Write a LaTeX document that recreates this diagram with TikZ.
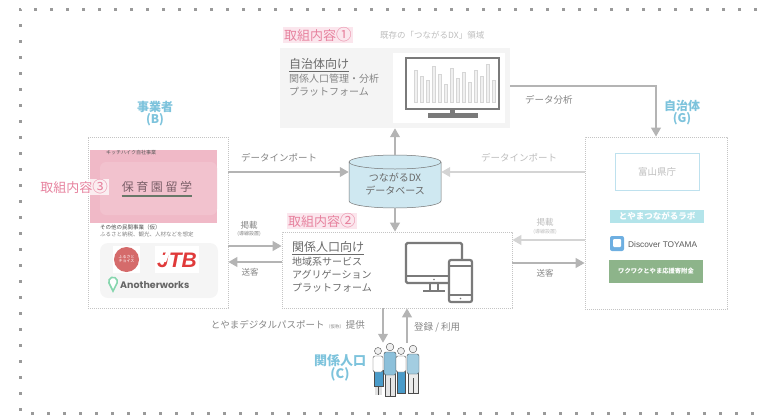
\documentclass[tikz,border=0pt]{standalone}
\usepackage{fontspec}
\setmainfont{Noto Sans CJK JP}
\newfontfamily\latinsans{Liberation Sans}
\newfontfamily\popfont{Poppins}
\usetikzlibrary{arrows.meta,calc}
\newcommand\fsz[1]{\fontsize{#1}{#1}\selectfont}
\newcommand\bignum[1]{{\fsz{15.5}#1}}

\definecolor{pinkt}{HTML}{E7839F}
\definecolor{pinkbg}{HTML}{FBE6ED}
\definecolor{pinkbox}{HTML}{F0B9C7}
\definecolor{pinkin}{HTML}{F2C2CE}
\definecolor{hoikut}{HTML}{7A5F68}
\definecolor{hoikul}{HTML}{697869}
\definecolor{bluet}{HTML}{7DC3DC}
\definecolor{txt}{HTML}{858585}
\definecolor{txtd}{HTML}{6A6A6A}
\definecolor{txtl}{HTML}{BDBDBD}
\definecolor{arrc}{HTML}{B4B4B4}
\definecolor{arrl}{HTML}{D4D4D4}
\definecolor{boxgray}{HTML}{F4F4F4}
\definecolor{dotc}{HTML}{C4C4C4}
\definecolor{framec}{HTML}{9A9A9A}
\definecolor{dbfill}{HTML}{CFE8F1}
\definecolor{icon}{HTML}{7A7A7A}
\definecolor{labcyan}{HTML}{B3E4EA}
\definecolor{prefbox}{HTML}{BEE1EE}
\definecolor{appblue}{HTML}{6EAFE1}
\definecolor{furugreen}{HTML}{8DB48A}
\definecolor{jtbred}{HTML}{E03A3A}
\definecolor{choice}{HTML}{D56B6B}
\definecolor{pingreen}{HTML}{86D6AE}
\definecolor{shirt}{HTML}{8CC0DA}
\definecolor{pants}{HTML}{4A9BC9}

\tikzset{
  lbl/.style={inner sep=0pt, text=txt},
  arrow base/.style={line width=2.2pt, -{Triangle[length=9pt,width=9.5pt]}},
  arr/.style={arrow base, draw=arrc},
  arrlight/.style={arrow base, draw=arrl},
  dotbox/.style={draw=dotc, line width=0.6pt, dash pattern=on 0.8pt off 1.2pt, inner sep=0pt},
  frame/.style={line width=3pt, dash pattern=on 3pt off 13pt, draw=framec},
  titlepink/.style={fill=pinkbg, text=pinkt, inner sep=1pt, font=\fsz{13}},
  who/.style={inner sep=0pt, text=bluet, font=\fsz{12}\bfseries, align=center},
  person/.style={draw=black!70, line width=0.4pt}
}

\begin{document}
\begin{tikzpicture}[x=1pt,y=-1pt]
\useasboundingbox (0,0) rectangle (760,418);

% outer dotted frame
\draw[frame] (757,9) -- (20,9) -- (20,413) -- (757,413);

% ---------- existing area: municipal platform ----------
\node[fill=boxgray, inner sep=0pt, minimum width=230pt, minimum height=80pt] (dxbox) at (395,88) {};
\node[titlepink, anchor=west] (t1) at (283,35) {取組内容\bignum{①}};
\node[lbl, anchor=west, text=txtl, font=\fsz{8.5}] at (380,35) {既存の「つながるDX」領域};
\node[lbl, anchor=west, text=txtd, font=\fsz{12}] (g1) at (289,64) {自治体向け};
\draw[txtd, line width=0.8pt] ([yshift=-1.5pt]g1.south west) -- ([yshift=-1.5pt]g1.south east);
\node[lbl, anchor=west, font=\fsz{10}] at (289,79) {関係人口管理・分析};
\node[lbl, anchor=west, font=\fsz{10}] at (289,92) {プラットフォーム};
% analytics monitor
\fill[white] (393,53) rectangle (505,123);
\draw[icon, line width=2.5pt, fill=white] (406,58) rectangle (499,109);
\foreach \bx/\bt in {414/70,420/76,426/80,432/66,438/74,444/84,450/68,456/78,462/72,468/82,474/70,480/76,486/64,492/80}
  \draw[draw=black!16, fill=black!6, line width=0.3pt] (\bx,102) rectangle ++(3.2,\bt-102);
\fill[icon] (450,109) rectangle (455,114);
\fill[icon] (428,113) rectangle (478,117.5);

% ---------- database ----------
\node[inner sep=0pt, minimum width=92pt, minimum height=53pt] (db) at (395,181.5) {};
\fill[dbfill] (349,162) -- (349,201) arc[start angle=180, end angle=360, x radius=46pt, y radius=7pt]
  -- (441,162) arc[start angle=0, end angle=180, x radius=46pt, y radius=7pt] -- cycle;
\draw[black!55, line width=0.5pt] (349,162) -- (349,201) arc[start angle=180, end angle=360, x radius=46pt, y radius=7pt] -- (441,162);
\draw[black!55, line width=0.5pt] (395,162) ellipse[x radius=46pt, y radius=7pt];
\node[lbl, text=txtd, font=\fsz{10}, align=center] at (395,184) {つながるDX\\[3pt]データベース};

% ---------- business operators (B) ----------
\node[dotbox, minimum width=140pt, minimum height=171pt] (bbox) at (158,222.5) {};
\node[who] at (155,114) {事業者\\(B)};
\fill[pinkbox] (90,150) rectangle (217,223);
\fill[pinkin, rounded corners=6pt] (100,162) rectangle (217,215);
\node[lbl, anchor=west, text=black!65, font=\fsz{5}] at (106,153) {キッチハイク自社事業};
\node[lbl, text=hoikut, font=\fsz{12}] (hoiku) at (157,187)
  {保\hspace{2.6pt}育\hspace{2.6pt}園\hspace{2.6pt}留\hspace{2.6pt}学};
\draw[hoikul, line width=1.6pt] ([yshift=-3pt]hoiku.south west) -- ([yshift=-3pt]hoiku.south east);
\node[fill=white, fill opacity=0.75, text opacity=1, text=pinkt, inner sep=1pt, font=\fsz{13}] at (74,187) {取組内容\bignum{③}};
\node[lbl, anchor=west, text=black!70, font=\fsz{5.5}] at (100,227) {その他の民間事業（仮）};
\node[lbl, anchor=west, text=black!50, font=\fsz{5.5}] at (100,234.5) {ふるさと納税、観光、人材などを想定};
\fill[black!4, rounded corners=8pt] (100,243) rectangle (218,298);
% partner logos
\fill[white] (113,246) rectangle (140,273);
\fill[choice] (126.5,259.5) circle[radius=12.5pt];
\node[lbl, text=white, font=\fsz{4}, align=center] at (126.5,259.5) {ふるさと\\チョイス};
\fill[white] (155,246) rectangle (199,273);
\node[lbl, text=jtbred, font=\latinsans\fsz{21}\bfseries\itshape] at (177,260) {JTB};
\fill[white] (168,247) -- (172,247) -- (166,262) -- (162,262) -- cycle;
\draw[pingreen, line width=1.6pt, fill=white] (113,291) -- (109,283) arc[start angle=200, end angle=-20, radius=4.3pt] -- cycle;
\node[lbl, anchor=west, text=black!60, font=\popfont\fsz{9.5}\bfseries] at (120,285.5) {Anotherworks};

% ---------- municipality (G) ----------
\node[dotbox, minimum width=142pt, minimum height=172pt] (gbox) at (656,223) {};
\node[who] at (682,113) {自治体\\(G)};
\node[draw=prefbox, line width=0.8pt, minimum width=84pt, minimum height=37pt, text=txtl, font=\fsz{9.5}] at (657,171.5) {富山県庁};
\node[fill=labcyan, minimum width=94pt, minimum height=13pt, inner sep=0pt, text=white, font=\fsz{8.5}\bfseries] at (657,216.5) {とやまつながるラボ};
\fill[appblue, rounded corners=2pt] (610,236) rectangle (624,251);
\fill[white, rounded corners=1pt] (613,239) rectangle (621,247);
\node[lbl, anchor=west, text=black!65, font=\latinsans\fsz{8.3}] at (628,245) {Discover TOYAMA};
\node[fill=furugreen, minimum width=94pt, minimum height=23pt, inner sep=0pt, text=white, font=\fsz{6.3}\bfseries] at (656,271.5) {ワクワクとやま応援寄附金};

% ---------- population-facing platform ----------
\node[dotbox, fill=white, minimum width=230pt, minimum height=76pt] (p2box) at (397,270) {};
\node[titlepink, anchor=west] at (287,221) {取組内容\bignum{②}};
\node[lbl, anchor=west, text=txtd, font=\fsz{12}] (k1) at (292,247) {関係人口向け};
\draw[txtd, line width=0.8pt] ([yshift=-1.5pt]k1.south west) -- ([yshift=-1.5pt]k1.south east);
\node[lbl, anchor=west, text=txtd, font=\fsz{10}] at (292,262) {地域系サービス};
\node[lbl, anchor=west, text=txtd, font=\fsz{10}] at (292,275) {アグリゲーション};
\node[lbl, anchor=west, text=txtd, font=\fsz{10}] at (292,288) {プラットフォーム};
% monitor and phone icon
\draw[icon, line width=2.2pt, rounded corners=1.5pt] (406,243) rectangle (462,283);
\draw[icon, line width=1.6pt] (406,276) -- (462,276);
\fill[icon] (434,279.5) circle[radius=0.9pt];
\draw[icon, line width=2pt] (430,283) -- (430,290) (438,283) -- (438,290);
\draw[icon, line width=2pt] (423,291) -- (445,291);
\draw[icon, line width=2.2pt, fill=white, rounded corners=2pt] (449,260) rectangle (472,302);
\draw[icon, line width=1.4pt] (449,266) -- (472,266) (449,295) -- (472,295);
\fill[icon] (460.5,298.5) circle[radius=0.9pt];

% ---------- related population (C) ----------
\node[inner sep=0pt, minimum width=48pt, minimum height=52pt] (people) at (396,369) {};
\node[who, font=\fsz{13}\bfseries] at (340,368) {関係人口\\(C)};
% person 1
\fill[black!12] (375,383) rectangle (382,395);
\draw[person] (378.5,386) -- (378.5,395);
\draw[person, fill=pants] (374,370) rectangle (383,386);
\draw[person, fill=white, rounded corners=2pt] (373,356) rectangle (383,372);
\draw[person, fill=black!6] (378,351) circle[radius=3.5pt];
% person 2
\draw[person, fill=black!10] (385,373) rectangle (395,396);
\draw[person] (390,378) -- (390,396);
\draw[person, fill=shirt, rounded corners=2pt] (384,352) rectangle (396,375);
\draw[person, fill=black!6] (390,347) circle[radius=3.8pt];
% person 3
\draw[person, fill=pants] (397,371) rectangle (405,393);
\draw[person, fill=white, rounded corners=2pt] (396,356) rectangle (406,372);
\draw[person, fill=black!6] (401,351) circle[radius=3.5pt];
% person 4
\draw[person, fill=black!8] (408,373) rectangle (418,393);
\draw[person] (413,378) -- (413,393);
\draw[person, fill=shirt!80, rounded corners=2pt] (407,354) rectangle (419,374);
\draw[person, fill=black!6] (413,349) circle[radius=3.8pt];

% ---------- connectors ----------
\draw[arr] (db.north) -- (dxbox.south);
\draw[arr] (db.south) -- (db.south |- p2box.north);
\draw[arr] (dxbox.east |- 0,86) -| (gbox.north);
\node[lbl, anchor=west, font=\fsz{9.5}] at (525,100) {データ分析};

\draw[arr] (bbox.east |- 0,172) -- (db.west |- 0,172);
\node[lbl, font=\fsz{9.5}] at (279,158) {データインポート};
\draw[arrlight] (gbox.west |- 0,172) -- (db.east |- 0,172);
\node[lbl, text=txtl, font=\fsz{9.5}] at (519,158) {データインポート};

\draw[arr] (bbox.east |- 0,246) -- (p2box.west |- 0,246);
\node[lbl, font=\fsz{8.5}] at (249,225) {掲載};
\node[lbl, font=\fsz{5}] at (249,234) {(導線設置)};
\draw[arr] (p2box.west |- 0,262) -- (bbox.east |- 0,262);
\node[lbl, font=\fsz{8.5}] at (250,272) {送客};

\draw[arrlight] (gbox.west |- 0,240) -- (p2box.east |- 0,240);
\node[lbl, text=txtl, font=\fsz{8.5}] at (545,222) {掲載};
\node[lbl, text=txtl, font=\fsz{5}] at (545,232) {(導線設置)};
\draw[arr] (p2box.east |- 0,263) -- (gbox.west |- 0,263);
\node[lbl, font=\fsz{8.5}] at (545,273) {送客};

\draw[arr] (p2box.south -| 383,0) -- (people.north -| 383,0);
\node[lbl, anchor=east, font=\fsz{9.5}] at (365,325) {とやまデジタルパスポート\,{\fsz{4.5}（仮称）}\,提供};
\draw[arr] (people.north -| 407,0) -- (p2box.south -| 407,0);
\node[lbl, anchor=west, font=\fsz{9.5}] at (414,327) {登録 / 利用};
\end{tikzpicture}
\end{document}
